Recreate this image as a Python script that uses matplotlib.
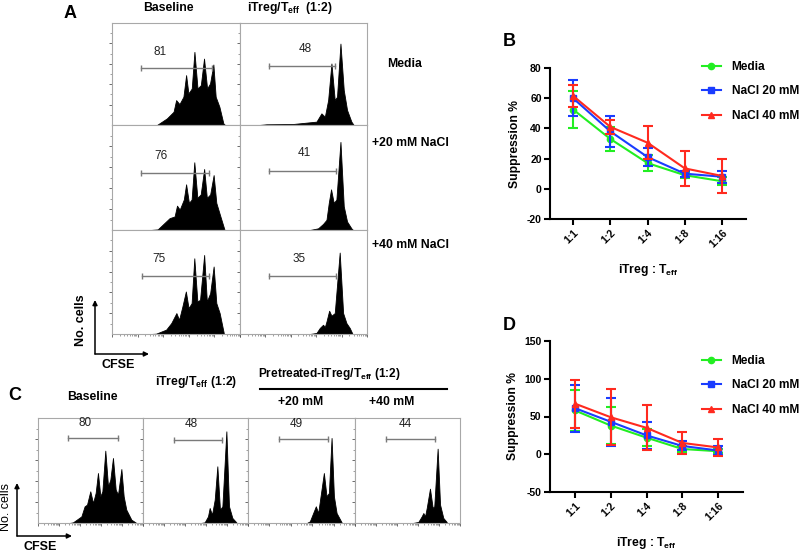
import numpy as np
import matplotlib.pyplot as plt

plt.rcParams['font.family'] = ['Liberation Sans', 'DejaVu Sans']
plt.rcParams['mathtext.fontset'] = 'custom'
plt.rcParams['mathtext.rm'] = 'Liberation Sans:bold'
plt.rcParams['mathtext.it'] = 'Liberation Sans:bold'
plt.rcParams['mathtext.bf'] = 'Liberation Sans:bold'

W, H = 800, 554

# ---- suppression data (B, D) ----
ratios = ['1:1', '1:2', '1:4', '1:8', '1:16']
series = ['Media', 'NaCl 20 mM', 'NaCl 40 mM']

b_media = [52.5, 33, 17, 9, 5]
b_media_sd = [12.5, 8, 5.5, 2, 2.5]
b_nacl20 = [60, 38, 21, 10, 8]
b_nacl20_sd = [12, 10, 6, 2, 4]
b_nacl40 = [61.5, 41, 30.5, 13.5, 8.5]
b_nacl40_sd = [7.5, 4.5, 11, 11.5, 11.5]

d_media = [58, 38, 22, 7, 4]
d_media_sd = [27, 24, 11, 4, 3]
d_nacl20 = [61, 43, 25, 11, 5]
d_nacl20_sd = [31, 32, 18, 6, 6]
d_nacl40 = [67, 49, 35, 15, 9]
d_nacl40_sd = [32, 37, 30, 15, 11]

# ---- CFSE histograms (x: fraction of CFSE axis, y: fraction of max counts) ----
a1_x = [0.20, 0.351, 0.429, 0.481, 0.501, 0.527, 0.558, 0.579, 0.597, 0.623, 0.644, 0.668, 0.694, 0.719, 0.743, 0.766, 0.792, 0.810, 0.839, 0.870, 0.883]
a1_y = [0, 0, 0.065, 0.13, 0.244, 0.205, 0.277, 0.489, 0.309, 0.358, 0.717, 0.358, 0.391, 0.651, 0.358, 0.407, 0.593, 0.277, 0.179, 0.016, 0]
a2_x = [0.15, 0.209, 0.419, 0.602, 0.641, 0.668, 0.694, 0.720, 0.746, 0.764, 0.791, 0.817, 0.843, 0.877, 0.895]
a2_y = [0, 0.007, 0.01, 0.033, 0.114, 0.081, 0.244, 0.603, 0.244, 0.277, 0.798, 0.342, 0.147, 0.033, 0]
a3_x = [0.30, 0.357, 0.450, 0.489, 0.508, 0.529, 0.561, 0.579, 0.601, 0.622, 0.643, 0.667, 0.693, 0.720, 0.741, 0.767, 0.794, 0.815, 0.847, 0.878]
a3_y = [0, 0.006, 0.113, 0.129, 0.232, 0.194, 0.29, 0.435, 0.258, 0.29, 0.645, 0.306, 0.339, 0.581, 0.306, 0.339, 0.523, 0.258, 0.129, 0.006]
a4_x = [0.55, 0.615, 0.654, 0.681, 0.699, 0.717, 0.738, 0.759, 0.791, 0.817, 0.843, 0.877, 0.890]
a4_y = [0, 0.016, 0.058, 0.097, 0.258, 0.387, 0.258, 0.29, 0.839, 0.226, 0.081, 0.016, 0]
a5_x = [0.30, 0.344, 0.423, 0.463, 0.503, 0.524, 0.550, 0.577, 0.598, 0.622, 0.643, 0.667, 0.688, 0.720, 0.741, 0.767, 0.794, 0.815, 0.841, 0.873]
a5_y = [0, 0.003, 0.042, 0.105, 0.201, 0.137, 0.265, 0.409, 0.249, 0.297, 0.728, 0.313, 0.329, 0.760, 0.313, 0.393, 0.649, 0.297, 0.201, 0.01]
a6_x = [0.55, 0.602, 0.628, 0.654, 0.668, 0.681, 0.702, 0.720, 0.746, 0.785, 0.812, 0.838, 0.864, 0.885]
a6_y = [0, 0.010, 0.058, 0.089, 0.067, 0.121, 0.224, 0.176, 0.201, 0.783, 0.201, 0.105, 0.058, 0.003]

c1_x = [0.30, 0.333, 0.413, 0.444, 0.467, 0.498, 0.524, 0.549, 0.571, 0.594, 0.613, 0.641, 0.667, 0.689, 0.714, 0.740, 0.762, 0.794, 0.816, 0.841, 0.889, 0.937]
c1_y = [0, 0.006, 0.063, 0.159, 0.175, 0.302, 0.190, 0.286, 0.476, 0.254, 0.302, 0.689, 0.349, 0.413, 0.619, 0.317, 0.270, 0.514, 0.254, 0.127, 0.032, 0]
c2_x = [0.55, 0.587, 0.619, 0.635, 0.657, 0.683, 0.708, 0.733, 0.756, 0.794, 0.819, 0.851, 0.889]
c2_y = [0, 0.006, 0.063, 0.143, 0.079, 0.222, 0.540, 0.127, 0.159, 0.873, 0.159, 0.048, 0.006]
c3_x = [0.55, 0.578, 0.609, 0.634, 0.656, 0.678, 0.709, 0.734, 0.756, 0.781, 0.803, 0.828, 0.875]
c3_y = [0, 0.016, 0.095, 0.159, 0.095, 0.254, 0.476, 0.254, 0.286, 0.810, 0.254, 0.095, 0.006]
c4_x = [0.55, 0.603, 0.635, 0.651, 0.667, 0.683, 0.714, 0.740, 0.755, 0.787, 0.810, 0.841, 0.873]
c4_y = [0, 0.01, 0.063, 0.095, 0.063, 0.143, 0.327, 0.143, 0.159, 0.708, 0.175, 0.048, 0.01]

a_pct = [81, 48, 76, 41, 75, 35]
a_gate_lo = [0.229, 0.230, 0.225, 0.230, 0.233, 0.230]
a_gate_hi = [0.784, 0.749, 0.759, 0.759, 0.754, 0.754]
a_gate_y = [0.554, 0.577, 0.539, 0.565, 0.559, 0.553]
c_pct = [80, 48, 49, 44]
c_gate_lo = [0.286, 0.292, 0.291, 0.295]
c_gate_hi = [0.762, 0.752, 0.750, 0.762]
c_gate_y = [0.81, 0.794, 0.80, 0.80]

fig = plt.figure(figsize=(W / 100, H / 100), dpi=100)


def box(x0, y0, x1, y1):
    # pixel box (top-left origin) -> figure fraction rect
    return [x0 / W, 1 - y1 / H, (x1 - x0) / W, (y1 - y0) / H]


def hist_panel(rect, xs, ys, lo, hi, gy, pct, lx, ly):
    ax = fig.add_axes(rect)
    ax.fill_between(xs, ys, color='black', lw=0.6, edgecolor='black')
    ax.plot([lo, hi], [gy, gy], color='#7a7a7a', lw=1.0)
    ax.plot([lo, hi], [gy, gy], ls='none', marker='|', ms=4, mew=1, color='#7a7a7a')
    ax.text(lx, ly, str(pct), ha='center', va='center', fontsize=8.5, color='#222222')
    ax.set_xlim(0, 1)
    ax.set_ylim(0, 1)
    major = [d / 5 for d in range(6)]
    minor = [(d + np.log10(m)) / 5 for d in range(5) for m in range(2, 10)]
    ax.set_xticks(major)
    ax.set_xticks(minor, minor=True)
    ax.set_yticks([0.2, 0.4, 0.6, 0.8])
    ax.set_yticks([0.1, 0.3, 0.5, 0.7, 0.9], minor=True)
    ax.tick_params(which='major', length=2.5, width=0.6, color='#555555', direction='out',
                   labelbottom=False, labelleft=False)
    ax.tick_params(which='minor', length=1.2, width=0.5, color='#777777', direction='out')
    for s in ax.spines.values():
        s.set_color('#a8a8a8')
        s.set_linewidth(0.8)
    return ax


# ---- panel A histograms ----
a_x = [a1_x, a2_x, a3_x, a4_x, a5_x, a6_x]
a_y = [a1_y, a2_y, a3_y, a4_y, a5_y, a6_y]
a_label_x = [0.377, 0.51, 0.384, 0.51, 0.37, 0.463]
a_cols = [(112, 240), (240, 367)]
a_rows = [(23, 125), (125, 230), (230, 334)]
for i in range(6):
    r, c = divmod(i, 2)
    hist_panel(box(a_cols[c][0], a_rows[r][0], a_cols[c][1], a_rows[r][1]),
               a_x[i], a_y[i], a_gate_lo[i], a_gate_hi[i], a_gate_y[i],
               a_pct[i], a_label_x[i], a_gate_y[i] + 0.165)

# ---- panel C histograms ----
c_x = [c1_x, c2_x, c3_x, c4_x]
c_y = [c1_y, c2_y, c3_y, c4_y]
c_label_x = [0.444, 0.46, 0.453, 0.476]
c_cols = [(38, 143), (143, 248), (248, 355), (355, 460)]
for i in range(4):
    hist_panel(box(c_cols[i][0], 418, c_cols[i][1], 523),
               c_x[i], c_y[i], c_gate_lo[i], c_gate_hi[i], c_gate_y[i],
               c_pct[i], c_label_x[i], c_gate_y[i] + 0.145)


# ---- panels B and D ----
colors = ['#22ee22', '#1a3cff', '#ff2a1f']
markers = ['o', 's', '^']


def suppression_panel(rect, vals, sds, xlim, ylim, yticks, legend_xy):
    ax = fig.add_axes(rect)
    x = np.arange(len(ratios))
    handles = []
    for v, e, col, mk, name in zip(vals, sds, colors, markers, series):
        ax.errorbar(x, v, yerr=e, fmt='none', ecolor=col, elinewidth=1.5,
                    capsize=3.5, capthick=1.5)
        h, = ax.plot(x, v, color=col, lw=1.5, marker=mk, ms=4.5, label=name)
        handles.append(h)
    ax.set_xlim(*xlim)
    ax.set_ylim(*ylim)
    ax.set_yticks(yticks)
    ax.set_yticklabels([str(t) for t in yticks], fontweight='bold', fontsize=7.5)
    ax.set_xticks(x)
    ax.set_xticklabels(ratios, rotation=45, ha='right', va='top', rotation_mode='anchor',
                       fontweight='bold', fontsize=7.5)
    ax.tick_params(width=1.5, length=4, direction='out', pad=2)
    for s in ['top', 'right']:
        ax.spines[s].set_visible(False)
    for s in ['left', 'bottom']:
        ax.spines[s].set_linewidth(1.5)
    ax.set_ylabel('Suppression %', fontweight='bold', fontsize=8.7, labelpad=4)
    ax.set_xlabel(r'iTreg : T$_{\mathrm{eff}}$', fontweight='bold', fontsize=8.7, labelpad=9)
    fig.legend(handles=handles, loc='upper left',
               bbox_to_anchor=(legend_xy[0] / W, 1 - legend_xy[1] / H),
               frameon=False, prop={'weight': 'bold', 'size': 8.6},
               handlelength=1.6, handletextpad=0.9, labelspacing=1.05, borderaxespad=0)
    return ax


suppression_panel(box(550, 68, 746, 219),
                  [b_media, b_nacl20, b_nacl40], [b_media_sd, b_nacl20_sd, b_nacl40_sd],
                  (-0.62, 4.64), (-20, 80), [-20, 0, 20, 40, 60, 80], (697, 56))
suppression_panel(box(550, 341, 743, 492),
                  [d_media, d_nacl20, d_nacl40], [d_media_sd, d_nacl20_sd, d_nacl40_sd],
                  (-0.70, 4.70), (-50, 150), [-50, 0, 50, 100, 150], (697, 350))

# ---- annotation layer (pixel coordinates) ----
ov = fig.add_axes([0, 0, 1, 1])
ov.set_xlim(0, W)
ov.set_ylim(H, 0)
ov.axis('off')

bold = dict(fontweight='bold', ha='center', va='center')
ov.text(70, 14, 'A', fontsize=13, **bold)
ov.text(15, 395, 'C', fontsize=13, **bold)
ov.text(509, 42, 'B', fontsize=13, **bold)
ov.text(509, 326, 'D', fontsize=13, **bold)

ov.text(168, 8, 'Baseline', fontsize=8.8, **bold)
ov.text(290, 8, r'iTreg/T$_{\mathrm{eff}}$  (1:2)', fontsize=8.8, **bold)
ov.text(405, 64, 'Media', fontsize=8.8, **bold)
ov.text(372, 143, '+20 mM NaCl', fontsize=8.8, fontweight='bold', ha='left', va='center')
ov.text(372, 245, '+40 mM NaCl', fontsize=8.8, fontweight='bold', ha='left', va='center')

ov.text(81, 320, 'No. cells', fontsize=9, rotation=90, **bold)
ov.text(118, 365, 'CFSE', fontsize=9, **bold)
arrow = dict(arrowstyle='-|>', lw=1.1, color='black', mutation_scale=7, shrinkA=0, shrinkB=0)
ov.annotate('', xy=(95, 300), xytext=(95, 354), arrowprops=arrow)
ov.annotate('', xy=(149, 354), xytext=(95, 354), arrowprops=arrow)

ov.text(92, 397, 'Baseline', fontsize=8.8, **bold)
ov.text(196, 382, r'iTreg/T$_{\mathrm{eff}}$ (1:2)', fontsize=8.8, **bold)
ov.text(329, 374, r'Pretreated-iTreg/T$_{\mathrm{eff}}$ (1:2)', fontsize=8.6, **bold)
ov.plot([260, 447], [389, 389], color='black', lw=1.5)
ov.text(301, 402, '+20 mM', fontsize=8.8, **bold)
ov.text(392, 402, '+40 mM', fontsize=8.8, **bold)

ov.text(6, 507, 'No. cells', fontsize=9, rotation=90, ha='center', va='center')
ov.text(40, 547, 'CFSE', fontsize=9, **bold)
ov.annotate('', xy=(17, 483), xytext=(17, 536), arrowprops=arrow)
ov.annotate('', xy=(72, 536), xytext=(17, 536), arrowprops=arrow)

fig.savefig('out.png', dpi=100)
